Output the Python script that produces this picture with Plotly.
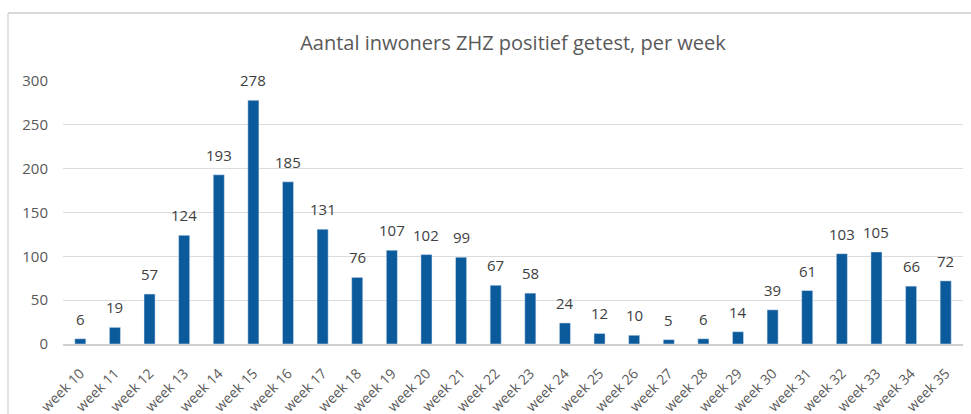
import plotly.graph_objects as go

weeks = ["week 10", "week 11", "week 12", "week 13", "week 14", "week 15", "week 16",
         "week 17", "week 18", "week 19", "week 20", "week 21", "week 22", "week 23",
         "week 24", "week 25", "week 26", "week 27", "week 28", "week 29", "week 30",
         "week 31", "week 32", "week 33", "week 34", "week 35"]
cases = [6, 19, 57, 124, 193, 278, 185, 131, 76, 107, 102, 99, 67, 58,
         24, 12, 10, 5, 6, 14, 39, 61, 103, 105, 66, 72]
y_ticks = [0, 50, 100, 150, 200, 250, 300]
title_text = "Aantal inwoners ZHZ positief getest, per week"

FONT = "Open Sans"
BAR = "#0B5A9C"

fig = go.Figure()
fig.add_trace(go.Bar(x=weeks, y=cases, marker_color=BAR, width=0.32,
                     hoverinfo="x+y"))

annotations = [
    dict(x=w, y=v, text=str(v), showarrow=False, yanchor="middle", yshift=20,
         font=dict(family=FONT, size=15, color="#404040"))
    for w, v in zip(weeks, cases)
]

W0, W1 = 63, 963
H0, H1 = 81, 344
pw, ph = W1 - W0, H1 - H0

def px(x):
    return (x - W0) / pw

def py(y):
    return (H1 - y) / ph

shapes = [
    dict(type="line", xref="paper", yref="paper", x0=px(8), x1=px(971),
         y0=py(13), y1=py(13), line=dict(color="#d9d9d9", width=2), layer="below"),
    dict(type="line", xref="paper", yref="paper", x0=px(8), x1=px(8),
         y0=py(13), y1=py(414), line=dict(color="#d9d9d9", width=1.5), layer="below"),
]

fig.update_layout(
    width=971, height=414,
    margin=dict(l=W0, r=971 - W1, t=H0, b=414 - H1),
    paper_bgcolor="white", plot_bgcolor="white",
    title=dict(text=title_text, x=0.5, xanchor="center", xref="paper",
               y=1 - 43 / 414, yanchor="middle",
               font=dict(family=FONT, size=20, color="#595959")),
    showlegend=False,
    annotations=annotations,
    shapes=shapes,
    font=dict(family=FONT, color="#595959"),
)
fig.update_xaxes(tickangle=-45, tickfont=dict(family=FONT, size=14, color="#595959"),
                 showline=True, linecolor="#d0d0d0", linewidth=1.5,
                 showgrid=False, ticks="", ticklabelstandoff=14, automargin=False)
fig.update_yaxes(range=[0, 300], tickvals=y_ticks, showgrid=True, gridcolor="#dcdcdc",
                 gridwidth=1, zeroline=False, showline=False,
                 tickfont=dict(family=FONT, size=15, color="#595959"),
                 ticklabelstandoff=14, automargin=False)

fig.write_html("out.html", config={"displayModeBar": False},
               post_script="document.body.style.margin='0';document.body.style.overflow='hidden';")
